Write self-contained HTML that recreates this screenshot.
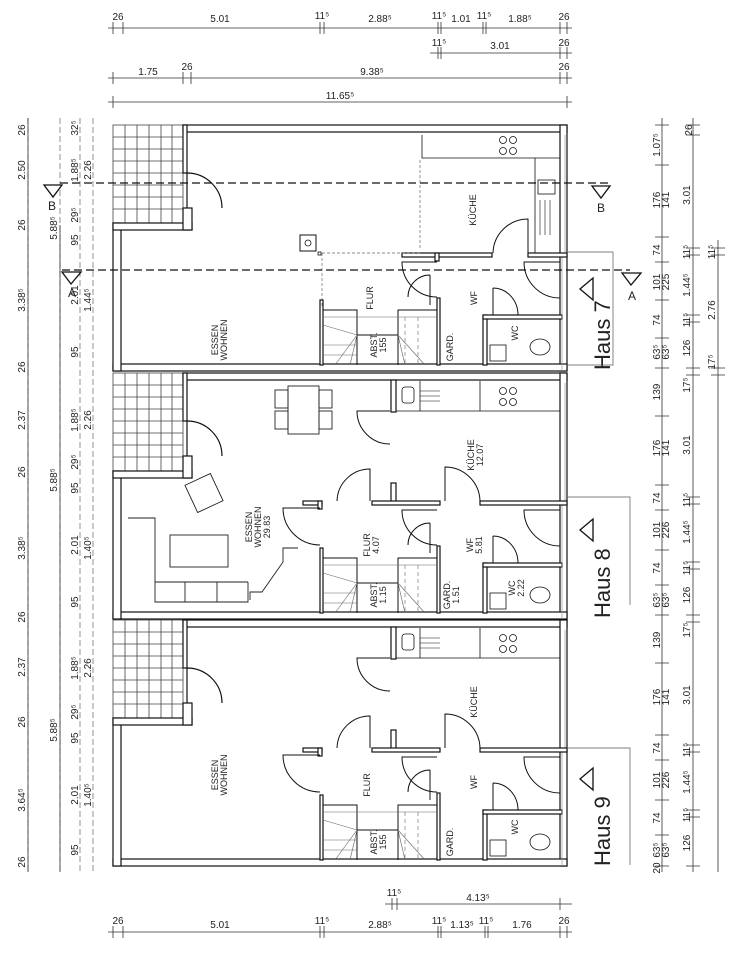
<!DOCTYPE html>
<html><head><meta charset="utf-8"><style>
html,body{margin:0;padding:0;background:#fff}
svg{display:block}
text{font-family:"Liberation Sans",sans-serif;fill:#222}
</style></head><body>
<svg width="737" height="960" viewBox="0 0 737 960" xmlns="http://www.w3.org/2000/svg">
<defs>
<g id="terr" stroke="#444" stroke-width="0.8" fill="none">
  <rect x="113" y="0" width="70" height="98"/>
  <path d="M113,12H183M113,24H183M113,36H183M113,48H183M113,60H183M113,72H183M113,84H183M125,0V98M137,0V98M149,0V98M161,0V98M172,0V98"/>
</g>
<g id="common" stroke="#111" fill="#fff" stroke-width="1.2">
  <rect x="183" y="0" width="384" height="7"/>
  <rect x="560" y="0" width="7" height="246"/>
  <rect x="113" y="239" width="454" height="7"/>
  <rect x="113" y="98" width="8" height="148"/>
  <rect x="113" y="98" width="79" height="7"/>
  <rect x="183" y="83" width="9" height="22"/>
  <rect x="183" y="0" width="4" height="48"/>
  <rect x="320" y="175" width="3" height="65"/>
  <rect x="437" y="173" width="3" height="67"/>
  <rect x="483" y="190" width="4" height="50"/>
  <rect x="483" y="190" width="79" height="4"/>
  <path d="M187,48 A35,35 0 0 1 222,83 M187,48V83" fill="none"/>
  <path d="M437,137 H402 A35,35 0 0 0 437,172" fill="none" stroke-width="1"/>
  <path d="M560,137 H524 A36,36 0 0 0 560,173" fill="none" stroke-width="1"/>
  <path d="M493,163 V190 M493,163 A25,27 0 0 1 518,190" fill="none" stroke-width="1"/>
  <path d="M430,150 V180 M430,150 A22,22 0 0 0 408,172" fill="none" stroke-width="1"/>
  <path d="M323,185H357V210H398V185H437 M357,210V240 M398,210V240" fill="none" stroke-width="1"/>
  <path d="M323,200L357,210L335,240 M357,210L350,240 M398,210L405,240 M398,210L425,240 M437,192H323 M323,220H357 M323,230H357" fill="none" stroke="#666" stroke-width="0.6"/>
  <path d="M405,192V240M418,192V240" fill="none" stroke="#666" stroke-width="0.6" stroke-dasharray="4,3"/>
  <rect x="490" y="220" width="16" height="16" stroke-width="0.8"/>
  <ellipse cx="540" cy="222" rx="10" ry="8" stroke-width="0.8"/>
  <path d="M562,130V246" stroke="#888" stroke-width="0.6" fill="none"/>
  <path d="M565,10V130" stroke="#888" stroke-width="0.6" fill="none"/>
</g>
<g id="h89" stroke="#111" fill="#fff" stroke-width="1.2">
  <rect x="391" y="7" width="5" height="32"/>
  <rect x="391" y="110" width="5" height="20"/>
  <rect x="372" y="128" width="68" height="4"/>
  <rect x="480" y="128" width="87" height="4"/>
  <rect x="303" y="128" width="19" height="4"/>
  <rect x="318" y="128" width="4" height="8"/>
  <path d="M396,38H560 M420,8V38 M480,8V38" fill="none" stroke-width="0.8"/>
  <rect x="402" y="14" width="12" height="16" rx="3" stroke-width="0.8"/>
  <path d="M420,18H440M420,23H440M420,28H440" stroke-width="0.6" fill="none"/>
  <circle cx="503" cy="18" r="3.5" stroke-width="0.8"/><circle cx="513" cy="18" r="3.5" stroke-width="0.8"/>
  <circle cx="503" cy="29" r="3.5" stroke-width="0.8"/><circle cx="513" cy="29" r="3.5" stroke-width="0.8"/>
  <path d="M390,38 H357 A33,33 0 0 0 390,71" fill="none" stroke-width="1"/>
  <path d="M370,128 V96 A33,33 0 0 0 337,128" fill="none" stroke-width="1"/>
  <path d="M320,135 H283 A37,37 0 0 0 320,172" fill="none" stroke-width="1"/>
  <path d="M445,128 V94 A35,35 0 0 1 480,128" fill="none" stroke-width="1"/>
</g>
</defs>

<!-- top dims -->
<g stroke="#333" stroke-width="0.8" fill="none">
  <path d="M108,28H572 M430,53H572 M108,78H572 M108,102H572"/>
  <path d="M113,22V34M123,22V34M320,22V34M324,22V34M438,22V34M441,22V34M483,22V34M486,22V34M560,22V34M567,22V34"/>
  <path d="M438,47V59M441,47V59M560,47V59M567,47V59"/>
  <path d="M113,72V84M183,72V84M191,72V84M560,72V84M567,72V84M113,96V108M567,96V108"/>
  <path d="M385,904H572 M108,932H572"/>
  <path d="M392,898V910M397,898V910M560,898V910"/>
  <path d="M113,926V938M123,926V938M320,926V938M324,926V938M438,926V938M441,926V938M485,926V938M488,926V938M560,926V938M567,926V938"/>
  <!-- left dims -->
  <path d="M28,118V872 M60,118V872 M80,118V872 M93,118V872" stroke="#777" stroke-dasharray="6,3"/>
  <path d="M28,118V872 M60,225V872"/>
  <!-- right dims -->
  <path d="M662,118V872 M693,118V872 M718,240V872"/>
  <path d="M655,125H669M655,165H669M655,237H669M655,262H669M655,300H669M655,338H669M655,368H669M655,416H669M655,485H669M655,510H669M655,550H669M655,585H669M655,615H669M655,663H669M655,735H669M655,760H669M655,800H669M655,835H669M655,866H669"/>
  <path d="M686,125H700M686,135H700M686,248H700M686,255H700M686,315H700M686,322H700M686,368H700M686,375H700M686,497H700M686,504H700M686,562H700M686,569H700M686,615H700M686,622H700M686,745H700M686,752H700M686,810H700M686,817H700M686,866H700"/>
  <path d="M711,248H725M711,255H725M711,368H725M711,375H725"/>
</g>
<g font-size="10" text-anchor="middle">
  <text x="118" y="20">26</text><text x="220" y="22">5.01</text><text x="322" y="19">11⁵</text><text x="380" y="22">2.88⁵</text>
  <text x="439" y="19">11⁵</text><text x="461" y="22">1.01</text><text x="484" y="19">11⁵</text><text x="520" y="22">1.88⁵</text><text x="564" y="20">26</text>
  <text x="439" y="46">11⁵</text><text x="500" y="49">3.01</text><text x="564" y="46">26</text>
  <text x="148" y="75">1.75</text><text x="187" y="70">26</text><text x="372" y="75">9.38⁵</text><text x="564" y="70">26</text>
  <text x="340" y="99">11.65⁵</text>
  <text x="394" y="896">11⁵</text><text x="478" y="901">4.13⁵</text>
  <text x="118" y="924">26</text><text x="220" y="928">5.01</text><text x="322" y="924">11⁵</text><text x="380" y="928">2.88⁵</text>
  <text x="439" y="924">11⁵</text><text x="462" y="928">1.13⁵</text><text x="486" y="924">11⁵</text><text x="522" y="928">1.76</text><text x="564" y="924">26</text>
</g>

<!-- houses -->
<use href="#terr" transform="translate(0,125)"/>
<use href="#terr" transform="translate(0,373)"/>
<use href="#terr" transform="translate(0,620)"/>
<use href="#common" transform="translate(0,125)"/>
<use href="#common" transform="translate(0,373)"/>
<use href="#common" transform="translate(0,620)"/>
<use href="#h89" transform="translate(0,373)"/>
<use href="#h89" transform="translate(0,620)"/>

<!-- house 7 specifics -->
<g stroke="#111" fill="#fff" stroke-width="1.2">
  <rect x="402" y="253" width="90" height="4"/>
  <rect x="528" y="253" width="39" height="4"/>
  <rect x="435" y="253" width="4" height="8"/>
  <path d="M422,135V158H535V253 M535,158H560" fill="none" stroke-width="0.8"/>
  <path d="M420,160V250 M322,253H420 M322,253V307" fill="none" stroke="#666" stroke-width="0.7" stroke-dasharray="3,2"/>
  <circle cx="503" cy="140" r="3.5" stroke-width="0.8"/><circle cx="513" cy="140" r="3.5" stroke-width="0.8"/>
  <circle cx="503" cy="151" r="3.5" stroke-width="0.8"/><circle cx="513" cy="151" r="3.5" stroke-width="0.8"/>
  <rect x="538" y="180" width="17" height="14" stroke-width="0.8"/>
  <path d="M540,200V235M545,200V235M550,200V235" stroke-width="0.6" fill="none"/>
  <rect x="300" y="235" width="16" height="16" stroke-width="1"/>
  <circle cx="308" cy="243" r="3" stroke-width="0.8"/>
  <rect x="318" y="252" width="3" height="3" stroke-width="0.8"/>
  <path d="M528,253 V219 A35,35 0 0 0 493,253" fill="none" stroke-width="1"/>
</g>
<!-- house 8 furniture -->
<g stroke="#222" fill="none" stroke-width="0.9">
  <rect x="288" y="386" width="31" height="48"/>
  <rect x="275" y="390" width="13" height="18"/><rect x="275" y="411" width="13" height="18"/>
  <rect x="319" y="390" width="13" height="18"/><rect x="319" y="411" width="13" height="18"/>
  <rect x="190" y="478" width="28" height="30" transform="rotate(-25 204 493)"/>
  <rect x="170" y="535" width="58" height="32"/>
  <path d="M128,518H155V602H248V582 M155,582H248 M185,582V602 M217,582V602"/>
  <path d="M250,600V592H262L283,562V548H298"/>
</g>

<!-- section lines -->
<g stroke="#111" stroke-width="1.2" stroke-dasharray="8,4" fill="none">
  <path d="M60,183H612"/>
  <path d="M62,270H630"/>
</g>
<g stroke="#111" stroke-width="1.3" fill="#fff">
  <path d="M44,185H62L53,197Z"/>
  <path d="M62,272H81L71,284Z"/>
  <path d="M592,186H610L601,198Z"/>
  <path d="M622,273H641L631,285Z"/>
  <path d="M593,278V300L580,289Z"/>
  <path d="M593,519V541L580,530Z"/>
  <path d="M593,768V790L580,779Z"/>
</g>
<g font-size="12" text-anchor="middle">
  <text x="52" y="210">B</text><text x="72" y="297">A</text>
  <text x="601" y="212">B</text><text x="632" y="300">A</text>
</g>
<g font-size="22" fill="#222">
  <text transform="translate(610,370) rotate(-90)">Haus 7</text>
  <text transform="translate(610,618) rotate(-90)">Haus 8</text>
  <text transform="translate(610,866) rotate(-90)">Haus 9</text>
</g>
<g stroke="#555" stroke-width="0.7" fill="none">
  <path d="M568,252H613V365H568 M568,497H630V605 M568,748H630V865"/>
</g>

<!-- room labels -->
<g font-size="9" text-anchor="middle">
  <text transform="translate(218,340) rotate(-90)">ESSEN</text><text transform="translate(227,340) rotate(-90)">WOHNEN</text>
  <text transform="translate(373,298) rotate(-90)">FLUR</text>
  <text transform="translate(477,298) rotate(-90)">WF</text>
  <text transform="translate(476,210) rotate(-90)">KÜCHE</text>
  <text transform="translate(453,347) rotate(-90)">GARD.</text>
  <text transform="translate(518,333) rotate(-90)">WC</text>
  <text transform="translate(377,345) rotate(-90)">ABST.</text><text transform="translate(386,345) rotate(-90)">155</text>

  <text transform="translate(252,527) rotate(-90)">ESSEN</text><text transform="translate(261,527) rotate(-90)">WOHNEN</text><text transform="translate(270,527) rotate(-90)">29.83</text>
  <text transform="translate(370,545) rotate(-90)">FLUR</text><text transform="translate(379,545) rotate(-90)">4.07</text>
  <text transform="translate(473,545) rotate(-90)">WF</text><text transform="translate(482,545) rotate(-90)">5.81</text>
  <text transform="translate(474,455) rotate(-90)">KÜCHE</text><text transform="translate(483,455) rotate(-90)">12.07</text>
  <text transform="translate(450,595) rotate(-90)">GARD.</text><text transform="translate(459,595) rotate(-90)">1.51</text>
  <text transform="translate(515,588) rotate(-90)">WC</text><text transform="translate(524,588) rotate(-90)">2.22</text>
  <text transform="translate(377,595) rotate(-90)">ABST.</text><text transform="translate(386,595) rotate(-90)">1.15</text>

  <text transform="translate(218,775) rotate(-90)">ESSEN</text><text transform="translate(227,775) rotate(-90)">WOHNEN</text>
  <text transform="translate(370,785) rotate(-90)">FLUR</text>
  <text transform="translate(477,782) rotate(-90)">WF</text>
  <text transform="translate(477,702) rotate(-90)">KÜCHE</text>
  <text transform="translate(453,842) rotate(-90)">GARD.</text>
  <text transform="translate(518,827) rotate(-90)">WC</text>
  <text transform="translate(377,842) rotate(-90)">ABST.</text><text transform="translate(386,842) rotate(-90)">155</text>
</g>

<!-- left dim texts -->
<g font-size="10" text-anchor="middle">
  <text transform="translate(25,130) rotate(-90)">26</text><text transform="translate(25,170) rotate(-90)">2.50</text>
  <text transform="translate(25,225) rotate(-90)">26</text><text transform="translate(25,300) rotate(-90)">3.38⁵</text>
  <text transform="translate(25,367) rotate(-90)">26</text><text transform="translate(25,420) rotate(-90)">2.37</text>
  <text transform="translate(25,472) rotate(-90)">26</text><text transform="translate(25,548) rotate(-90)">3.38⁵</text>
  <text transform="translate(25,617) rotate(-90)">26</text><text transform="translate(25,667) rotate(-90)">2.37</text>
  <text transform="translate(25,722) rotate(-90)">26</text><text transform="translate(25,800) rotate(-90)">3.64⁵</text>
  <text transform="translate(25,862) rotate(-90)">26</text>
  <text transform="translate(57,228) rotate(-90)">5.88⁵</text><text transform="translate(57,480) rotate(-90)">5.88⁵</text><text transform="translate(57,730) rotate(-90)">5.88⁵</text>
  <text transform="translate(78,128) rotate(-90)">32⁵</text><text transform="translate(78,170) rotate(-90)">1.88⁵</text>
  <text transform="translate(78,215) rotate(-90)">29⁵</text><text transform="translate(78,240) rotate(-90)">95</text>
  <text transform="translate(78,295) rotate(-90)">2.01</text><text transform="translate(78,352) rotate(-90)">95</text>
  <text transform="translate(78,420) rotate(-90)">1.88⁵</text><text transform="translate(78,462) rotate(-90)">29⁵</text><text transform="translate(78,488) rotate(-90)">95</text>
  <text transform="translate(78,545) rotate(-90)">2.01</text><text transform="translate(78,602) rotate(-90)">95</text>
  <text transform="translate(78,668) rotate(-90)">1.88⁵</text><text transform="translate(78,712) rotate(-90)">29⁵</text><text transform="translate(78,738) rotate(-90)">95</text>
  <text transform="translate(78,795) rotate(-90)">2.01</text><text transform="translate(78,850) rotate(-90)">95</text>
  <text transform="translate(91,170) rotate(-90)">2.26</text><text transform="translate(91,300) rotate(-90)">1.44⁵</text>
  <text transform="translate(91,420) rotate(-90)">2.26</text><text transform="translate(91,548) rotate(-90)">1.40⁵</text>
  <text transform="translate(91,668) rotate(-90)">2.26</text><text transform="translate(91,795) rotate(-90)">1.40⁵</text>
</g>
<!-- right dim texts -->
<g font-size="10" text-anchor="middle">
  <text transform="translate(660,145) rotate(-90)">1.07⁵</text><text transform="translate(692,130) rotate(-90)">26</text>
  <text transform="translate(660,200) rotate(-90)">176</text><text transform="translate(669,200) rotate(-90)">141</text><text transform="translate(690,195) rotate(-90)">3.01</text>
  <text transform="translate(660,250) rotate(-90)">74</text><text transform="translate(690,252) rotate(-90)">11⁵</text><text transform="translate(715,252) rotate(-90)">11⁵</text>
  <text transform="translate(660,282) rotate(-90)">101</text><text transform="translate(669,282) rotate(-90)">225</text><text transform="translate(690,285) rotate(-90)">1.44⁵</text>
  <text transform="translate(715,310) rotate(-90)">2.76</text>
  <text transform="translate(660,320) rotate(-90)">74</text><text transform="translate(690,320) rotate(-90)">11⁵</text>
  <text transform="translate(660,352) rotate(-90)">63⁵</text><text transform="translate(669,352) rotate(-90)">63⁵</text><text transform="translate(690,348) rotate(-90)">126</text>
  <text transform="translate(715,362) rotate(-90)">17⁵</text>
  <text transform="translate(660,392) rotate(-90)">139</text><text transform="translate(690,385) rotate(-90)">17⁵</text>
  <text transform="translate(660,448) rotate(-90)">176</text><text transform="translate(669,448) rotate(-90)">141</text><text transform="translate(690,445) rotate(-90)">3.01</text>
  <text transform="translate(660,498) rotate(-90)">74</text><text transform="translate(690,500) rotate(-90)">11⁵</text>
  <text transform="translate(660,530) rotate(-90)">101</text><text transform="translate(669,530) rotate(-90)">226</text><text transform="translate(690,532) rotate(-90)">1.44⁵</text>
  <text transform="translate(660,568) rotate(-90)">74</text><text transform="translate(690,568) rotate(-90)">11⁵</text>
  <text transform="translate(660,600) rotate(-90)">63⁵</text><text transform="translate(669,600) rotate(-90)">63⁵</text><text transform="translate(690,595) rotate(-90)">126</text>
  <text transform="translate(660,640) rotate(-90)">139</text><text transform="translate(690,630) rotate(-90)">17⁵</text>
  <text transform="translate(660,697) rotate(-90)">176</text><text transform="translate(669,697) rotate(-90)">141</text><text transform="translate(690,695) rotate(-90)">3.01</text>
  <text transform="translate(660,748) rotate(-90)">74</text><text transform="translate(690,750) rotate(-90)">11⁵</text>
  <text transform="translate(660,780) rotate(-90)">101</text><text transform="translate(669,780) rotate(-90)">226</text><text transform="translate(690,782) rotate(-90)">1.44⁵</text>
  <text transform="translate(660,818) rotate(-90)">74</text><text transform="translate(690,815) rotate(-90)">11⁵</text>
  <text transform="translate(660,850) rotate(-90)">63⁵</text><text transform="translate(669,850) rotate(-90)">63⁵</text><text transform="translate(690,843) rotate(-90)">126</text>
  <text transform="translate(660,868) rotate(-90)">20</text>
</g>
</svg>
</body></html>
